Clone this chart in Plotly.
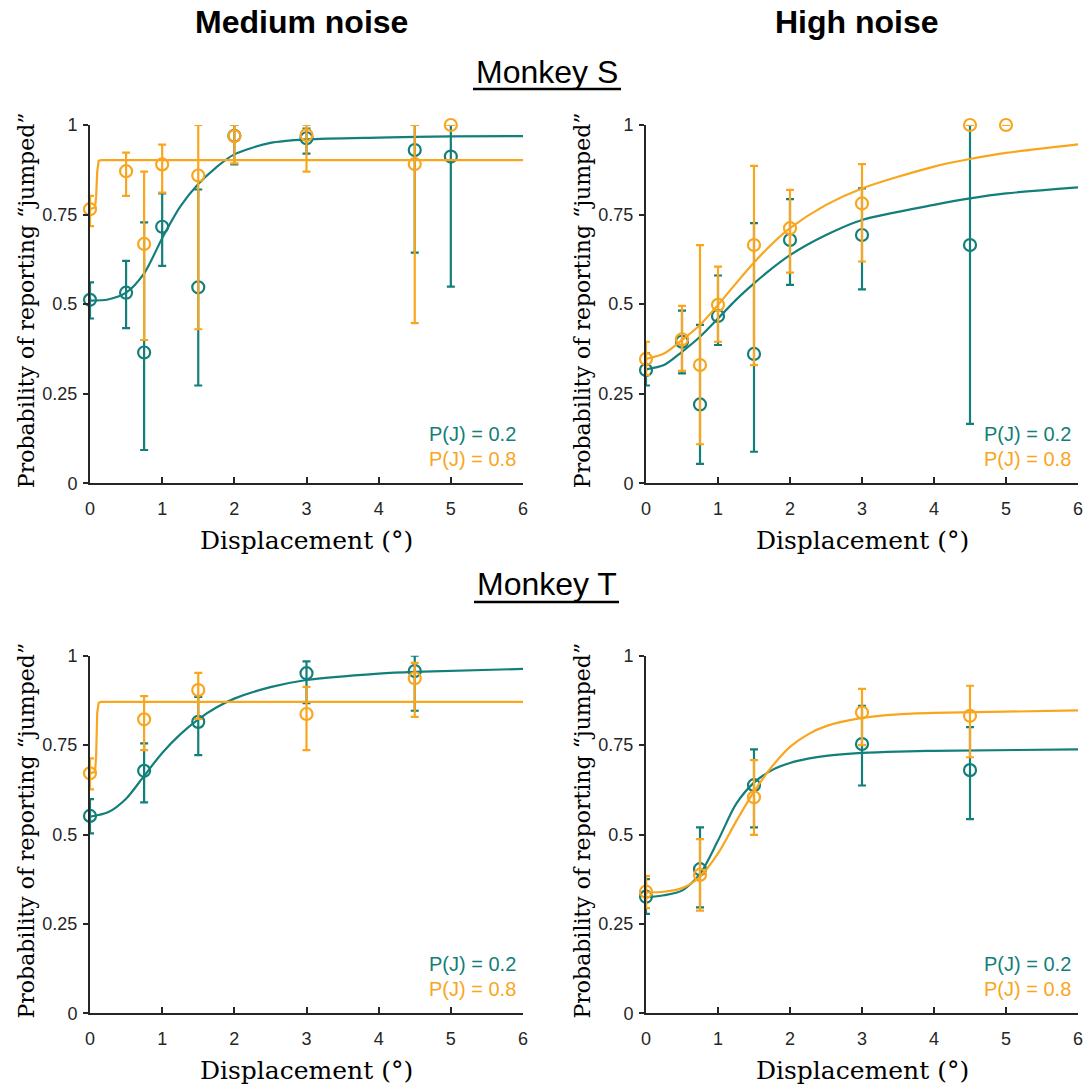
import plotly.graph_objects as go

W, H = 1089, 1088
TEAL = "#137F7A"
ORANGE = "#F9A61E"
AX = "#262626"

# ---------------- data ----------------
s_med_x02 = [0, 0.5, 0.75, 1, 1.5, 2, 3, 4.5, 5]
s_med_y02 = [0.512, 0.532, 0.365, 0.716, 0.547, 0.97, 0.963, 0.930, 0.912]
s_med_hi02 = [0.561, 0.621, 0.728, 0.809, 0.820, 1.0, 0.99, 1.0, 1.0]
s_med_lo02 = [0.460, 0.433, 0.093, 0.607, 0.273, 0.89, 0.92, 0.644, 0.549]
s_med_x08 = [0, 0.5, 0.75, 1, 1.5, 2, 3, 4.5, 5]
s_med_y08 = [0.765, 0.871, 0.668, 0.890, 0.859, 0.969, 0.972, 0.891, 1.0]
s_med_hi08 = [0.802, 0.923, 0.870, 0.945, 1.0, 1.0, 1.0, 1.0, 1.0]
s_med_lo08 = [0.718, 0.802, 0.400, 0.811, 0.430, 0.893, 0.870, 0.447, 1.0]
s_med_fit_x02 = [0, 0.25, 0.5, 0.75, 1, 1.25, 1.5, 1.75, 2, 2.5, 3, 4, 5, 6]
s_med_fit_y02 = [0.510, 0.513, 0.532, 0.586, 0.684, 0.772, 0.835, 0.882, 0.918, 0.950, 0.960, 0.965, 0.968, 0.969]
s_med_fit_x08 = [0, 0.07, 0.085, 0.1, 0.12, 0.15, 6]
s_med_fit_y08 = [0.765, 0.770, 0.800, 0.870, 0.900, 0.902, 0.902]

s_high_x02 = [0, 0.5, 0.75, 1, 1.5, 2, 3, 4.5]
s_high_y02 = [0.316, 0.395, 0.220, 0.467, 0.361, 0.679, 0.693, 0.665]
s_high_hi02 = [0.363, 0.482, 0.442, 0.580, 0.726, 0.793, 0.823, 1.0]
s_high_lo02 = [0.273, 0.307, 0.054, 0.386, 0.088, 0.554, 0.541, 0.166]
s_high_x08 = [0, 0.5, 0.75, 1, 1.5, 2, 3, 4.5, 5]
s_high_y08 = [0.347, 0.402, 0.330, 0.498, 0.665, 0.712, 0.781, 1.0, 1.0]
s_high_hi08 = [0.395, 0.495, 0.665, 0.605, 0.886, 0.819, 0.891, 1.0, 1.0]
s_high_lo08 = [0.302, 0.314, 0.109, 0.395, 0.330, 0.588, 0.619, 1.0, 1.0]
s_high_fit_x = [0, 0.25, 0.5, 0.75, 1, 1.25, 1.5, 1.75, 2, 2.5, 3, 4, 4.5, 5, 6]
s_high_fit_y02 = [0.318, 0.330, 0.367, 0.409, 0.460, 0.512, 0.558, 0.600, 0.637, 0.693, 0.735, 0.777, 0.795, 0.809, 0.826]
s_high_fit_y08 = [0.347, 0.362, 0.400, 0.442, 0.498, 0.558, 0.616, 0.668, 0.712, 0.777, 0.823, 0.884, 0.905, 0.922, 0.946]

t_x = [0, 0.75, 1.5, 3, 4.5]
t_med_y02 = [0.552, 0.678, 0.815, 0.951, 0.957]
t_med_hi02 = [0.599, 0.755, 0.885, 0.984, 1.0]
t_med_lo02 = [0.503, 0.590, 0.722, 0.867, 0.846]
t_med_y08 = [0.671, 0.822, 0.904, 0.837, 0.937]
t_med_hi08 = [0.713, 0.887, 0.952, 0.913, 0.980]
t_med_lo08 = [0.626, 0.736, 0.823, 0.736, 0.829]
t_med_fit_x02 = [0, 0.25, 0.5, 0.75, 1, 1.25, 1.5, 1.75, 2, 2.5, 3, 4, 4.5, 6]
t_med_fit_y02 = [0.550, 0.562, 0.600, 0.664, 0.728, 0.780, 0.822, 0.855, 0.880, 0.912, 0.932, 0.950, 0.955, 0.963]
t_med_fit_x08 = [0, 0.07, 0.085, 0.1, 0.12, 0.15, 6]
t_med_fit_y08 = [0.671, 0.675, 0.720, 0.840, 0.868, 0.871, 0.871]

t_high_y02 = [0.326, 0.403, 0.638, 0.753, 0.680]
t_high_hi02 = [0.375, 0.520, 0.738, 0.860, 0.800]
t_high_lo02 = [0.278, 0.296, 0.520, 0.637, 0.543]
t_high_y08 = [0.340, 0.387, 0.604, 0.841, 0.832]
t_high_hi08 = [0.384, 0.487, 0.708, 0.907, 0.916]
t_high_lo08 = [0.294, 0.287, 0.499, 0.750, 0.716]
t_high_fit_x = [0, 0.25, 0.5, 0.75, 1, 1.25, 1.5, 1.75, 2, 2.25, 2.5, 3, 3.5, 4, 6]
t_high_fit_y02 = [0.324, 0.330, 0.343, 0.390, 0.483, 0.585, 0.645, 0.680, 0.700, 0.712, 0.720, 0.728, 0.732, 0.734, 0.738]
t_high_fit_y08 = [0.338, 0.340, 0.350, 0.382, 0.447, 0.536, 0.620, 0.690, 0.745, 0.780, 0.803, 0.826, 0.836, 0.840, 0.847]

y_tickvals = [0, 0.25, 0.5, 0.75, 1]
y_ticktext = ["0", "0.25", "0.5", "0.75", "1"]
x_tickvals = [0, 1, 2, 3, 4, 5, 6]
x_ticktext = ["0", "1", "2", "3", "4", "5", "6"]

col_titles = ["Medium noise", "High noise"]
row_titles = ["Monkey S", "Monkey T"]
legend_labels = ["P(J) = 0.2", "P(J) = 0.8"]
x_title = "Displacement (°)"
y_title = "Probability of reporting “jumped”"

fig = go.Figure()

def px_x(v):
    return v / W

def px_y(v):
    return 1 - v / H

panels = [
    ("", [(s_med_fit_x02, s_med_fit_y02, TEAL, "spline"), (s_med_fit_x08, s_med_fit_y08, ORANGE, "linear")],
     [(s_med_x02, s_med_y02, s_med_hi02, s_med_lo02, TEAL), (s_med_x08, s_med_y08, s_med_hi08, s_med_lo08, ORANGE)]),
    ("2", [(s_high_fit_x, s_high_fit_y02, TEAL, "spline"), (s_high_fit_x, s_high_fit_y08, ORANGE, "spline")],
     [(s_high_x02, s_high_y02, s_high_hi02, s_high_lo02, TEAL), (s_high_x08, s_high_y08, s_high_hi08, s_high_lo08, ORANGE)]),
    ("3", [(t_med_fit_x02, t_med_fit_y02, TEAL, "spline"), (t_med_fit_x08, t_med_fit_y08, ORANGE, "linear")],
     [(t_x, t_med_y02, t_med_hi02, t_med_lo02, TEAL), (t_x, t_med_y08, t_med_hi08, t_med_lo08, ORANGE)]),
    ("4", [(t_high_fit_x, t_high_fit_y02, TEAL, "spline"), (t_high_fit_x, t_high_fit_y08, ORANGE, "spline")],
     [(t_x, t_high_y02, t_high_hi02, t_high_lo02, TEAL), (t_x, t_high_y08, t_high_hi08, t_high_lo08, ORANGE)]),
]

for suf, fits, pts in panels:
    xa, ya = "x" + suf, "y" + suf
    for (fx, fy, c, shp), (px, py, hi, lo, _c) in zip(fits, pts):
        fig.add_trace(go.Scatter(
            x=fx, y=fy, mode="lines", xaxis=xa, yaxis=ya,
            line=dict(color=c, width=2.2, shape=shp, smoothing=0.8),
            showlegend=False, hoverinfo="skip"))
        fig.add_trace(go.Scatter(
            x=px, y=py, mode="markers", xaxis=xa, yaxis=ya, cliponaxis=False,
            marker=dict(symbol="circle-open", size=12, color=c, line=dict(color=c, width=2.2)),
            error_y=dict(type="data", symmetric=False,
                         array=[h - v for h, v in zip(hi, py)],
                         arrayminus=[v - l for v, l in zip(py, lo)],
                         color=c, thickness=2.2, width=4),
            showlegend=False))

x_dom = [[px_x(90), px_x(523)], [px_x(646), px_x(1078)]]
y_dom = [[px_y(483.3), px_y(125)], [px_y(1013.3), px_y(655.7)]]

tickfont = dict(family="Liberation Sans, Arial, sans-serif", size=18, color=AX)
layout = dict(width=W, height=H, margin=dict(l=0, r=0, t=0, b=0, pad=0, autoexpand=False),
              paper_bgcolor="white", plot_bgcolor="white", showlegend=False)
for i, suf in enumerate(["", "2", "3", "4"]):
    r, c = divmod(i, 2)
    layout["xaxis" + suf] = dict(
        domain=x_dom[c], range=[0, 6], anchor="y" + suf, automargin=False,
        tickvals=x_tickvals, ticktext=x_ticktext, ticks="inside", ticklen=6,
        tickwidth=2, tickcolor=AX, showline=True, linecolor=AX, linewidth=2,
        showgrid=False, zeroline=False, tickfont=tickfont, ticklabelstandoff=8)
    layout["yaxis" + suf] = dict(
        domain=y_dom[r], range=[0, 1], anchor="x" + suf, automargin=False,
        tickvals=y_tickvals, ticktext=y_ticktext, ticks="outside", ticklen=5,
        tickwidth=2, tickcolor=AX, showline=True, linecolor=AX, linewidth=2,
        showgrid=False, zeroline=False, tickfont=tickfont, ticklabelstandoff=2)
fig.update_layout(**layout)

ann = []
for cx, t in zip([301, 857], col_titles):
    ann.append(dict(x=px_x(cx), y=px_y(22), xref="paper", yref="paper", text="<b>" + t + "</b>",
                    showarrow=False, xanchor="center", yanchor="middle",
                    font=dict(family="Liberation Sans, Arial, sans-serif", size=32, color="black")))
for cy, t in zip([72, 584], row_titles):
    ann.append(dict(x=px_x(547), y=px_y(cy), xref="paper", yref="paper", text=t,
                    showarrow=False, xanchor="center", yanchor="middle",
                    font=dict(family="Liberation Sans, Arial, sans-serif", size=32, color="black")))
serif = "DejaVu Serif, serif"
for i in range(4):
    r, c = divmod(i, 2)
    xl, xr = (90, 523) if c == 0 else (646, 1078)
    y0 = 483.3 if r == 0 else 1013.3
    y1 = 125 if r == 0 else 655.7
    ann.append(dict(x=px_x((xl + xr) / 2), y=px_y(y0 + 57), xref="paper", yref="paper",
                    text=x_title, showarrow=False, xanchor="center", yanchor="middle",
                    font=dict(family=serif, size=25, color="black")))
    ann.append(dict(x=px_x(xl - 64), y=px_y((y0 + y1) / 2 - 4), xref="paper", yref="paper",
                    text=y_title, showarrow=False, xanchor="center", yanchor="middle", textangle=-90,
                    font=dict(family=serif, size=22, color="black")))
    for k, (lab, col) in enumerate(zip(legend_labels, [TEAL, ORANGE])):
        ann.append(dict(x=px_x(xr - 5), y=px_y(y0 - 49 + 25 * k), xref="paper", yref="paper",
                        text=lab, showarrow=False, xanchor="right", yanchor="middle",
                        font=dict(family="Liberation Sans, Arial, sans-serif", size=20, color=col)))
fig.update_layout(annotations=ann)

shapes = []
for (x0, x1, yy) in [(473, 621, 89), (474, 619, 602)]:
    shapes.append(dict(type="line", xref="paper", yref="paper",
                       x0=px_x(x0), x1=px_x(x1), y0=px_y(yy), y1=px_y(yy),
                       line=dict(color="black", width=2.5)))
fig.update_layout(shapes=shapes)

fig.write_html("out.html")
